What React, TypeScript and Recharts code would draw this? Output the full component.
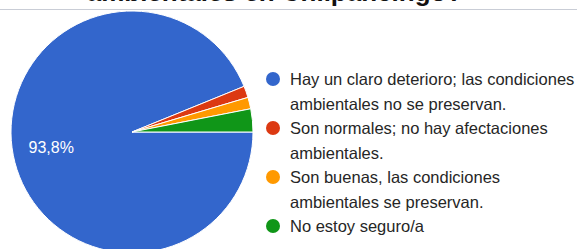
import React from 'react';
import { PieChart, Pie, Cell, Legend } from 'recharts';

const categories = [
    'Hay un claro deterioro; las condiciones\nambientales no se preservan.',
    'Son normales; no hay afectaciones\nambientales.',
    'Son buenas, las condiciones\nambientales se preservan.',
    'No estoy seguro/a',
];
const responses = [61, 1, 1, 2];
const colors = ['#3366cc', '#dc3912', '#ff9900', '#109618'];
const title = 'ambientales en Chilpancingo?';

const data = categories.map((name, i) => ({ name, value: responses[i] }));

const RADIAN = Math.PI / 180;

function renderLabel(props: any) {
    const { cx, cy, midAngle, outerRadius, percent, index } = props;
    if (index !== 0) return null;
    const r = outerRadius * 0.68;
    const x = cx + r * Math.cos(-midAngle * RADIAN);
    const y = cy + r * Math.sin(-midAngle * RADIAN);
    return (
        <text
            x={x}
            y={y}
            fill="#ffffff"
            fontSize={16}
            fontFamily="Liberation Sans, Arial, sans-serif"
            textAnchor="middle"
            dominantBaseline="central"
        >
            {(percent * 100).toFixed(1).replace('.', ',')}%
        </text>
    );
}

// legend order follows the data arrays, not recharts' payload sorting
function LegendContent() {
    return (
        <div style={{ fontFamily: 'Liberation Sans, Arial, sans-serif', fontSize: 16.5, color: '#262626' }}>
            {categories.map((name, i) => (
                <div key={i} style={{ position: 'relative', paddingLeft: 24, lineHeight: '24.5px', whiteSpace: 'pre-line' }}>
                    <span
                        style={{
                            position: 'absolute',
                            left: 0,
                            top: 5,
                            width: 14,
                            height: 14,
                            borderRadius: '50%',
                            background: colors[i],
                        }}
                    />
                    {name}
                </div>
            ))}
        </div>
    );
}

export default function App() {
    return (
        <div style={{ position: 'fixed', left: 0, top: 0, width: 577, height: 249, background: '#fff', overflow: 'hidden' }}>
            <div
                style={{
                    position: 'absolute',
                    left: 0,
                    width: 577,
                    top: -23,
                    textAlign: 'center',
                    fontFamily: 'Liberation Sans, Arial, sans-serif',
                    fontWeight: 'bold',
                    fontSize: 26,
                    lineHeight: '30px',
                    color: '#111',
                    paddingRight: 28,
                    boxSizing: 'border-box',
                }}
            >
                {title}
            </div>
            <div style={{ position: 'absolute', left: 0, top: 9, width: 577, height: 1, background: '#c9cdd6' }} />
            <div style={{ position: 'absolute', left: 0, top: 0 }}>
                <PieChart width={577} height={249} margin={{ top: 0, right: 0, bottom: 0, left: 0 }}>
                    <Pie
                        data={data}
                        dataKey="value"
                        nameKey="name"
                        cx={132}
                        cy={132}
                        outerRadius={121}
                        startAngle={360}
                        endAngle={0}
                        stroke="#ffffff"
                        strokeWidth={1}
                        label={renderLabel}
                        labelLine={false}
                        isAnimationActive={false}
                    >
                        {data.map((_, i) => (
                            <Cell key={i} fill={colors[i]} />
                        ))}
                    </Pie>
                    <Legend
                        layout="vertical"
                        content={<LegendContent />}
                        wrapperStyle={{ position: 'absolute', left: 266, top: 67, width: 311 }}
                    />
                </PieChart>
            </div>
        </div>
    );
}
